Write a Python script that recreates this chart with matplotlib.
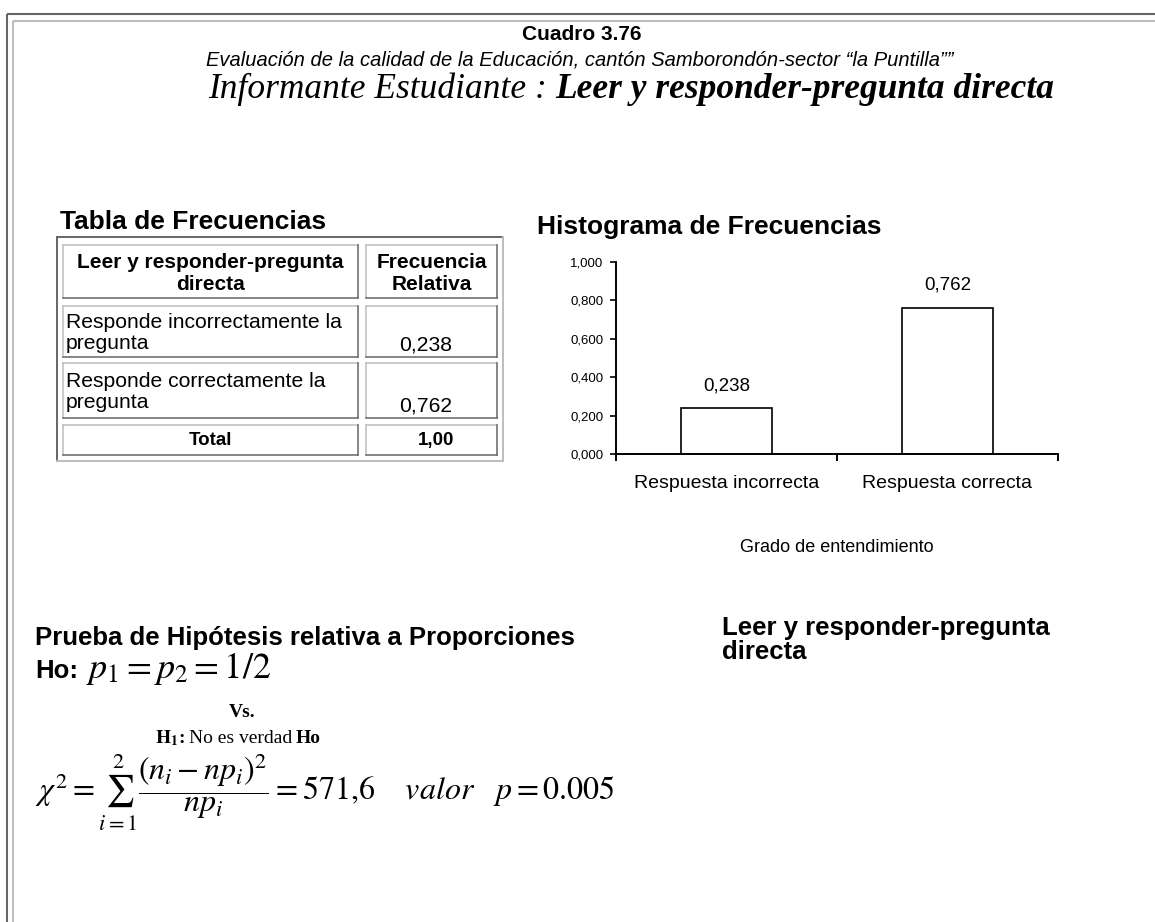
import matplotlib
matplotlib.use('Agg')
import matplotlib.pyplot as plt

plt.rcParams['font.family'] = ['Liberation Sans', 'DejaVu Sans']
plt.rcParams['mathtext.fontset'] = 'stix'

W, H = 1155, 922
DPI = 100

# ---------------- data ----------------
chart_number = "Cuadro 3.76"
subtitle = "Evaluación de la calidad de la Educación, cantón Samborondón-sector “la Puntilla””"
informant = "Informante Estudiante :"
variable = "Leer y responder-pregunta directa"
table_title = "Tabla de Frecuencias"
hist_title = "Histograma de Frecuencias"
table_header = ["Leer y responder-pregunta\ndirecta", "Frecuencia\nRelativa"]
row_labels = ["Responde incorrectamente la\npregunta", "Responde correctamente la\npregunta"]
categories = ["Respuesta incorrecta", "Respuesta correcta"]
rel_freq = [0.238, 0.762]
total_label = "Total"
total_value = 1.00
y_ticks = [0.0, 0.2, 0.4, 0.6, 0.8, 1.0]
x_label = "Grado de entendimiento"
test_title = "Prueba de Hipótesis relativa a Proporciones"
side_title = "Leer y responder-pregunta\ndirecta"
chi2_value = "571{,}6"
p_value = "0.005"


def fmt(v, d=3):
    return f"{v:.{d}f}".replace('.', ',')


fig = plt.figure(figsize=(W / DPI, H / DPI), dpi=DPI)
bg = fig.add_axes([0, 0, 1, 1])
bg.set_xlim(0, W)
bg.set_ylim(H, 0)
bg.axis('off')
r = fig.canvas.get_renderer()
inv = bg.transData.inverted()


def text_width(t):
    bb = t.get_window_extent(renderer=r)
    return inv.transform((bb.x1, 0))[0] - inv.transform((bb.x0, 0))[0]


def inline(pieces, x, y, ha='left'):
    """pieces: list of (string, kwargs, gap_after). Lay out horizontally."""
    objs, widths = [], []
    for s, kw, gap in pieces:
        t = bg.text(0, y, s, ha='left', va='baseline', **kw)
        objs.append((t, gap))
        widths.append(text_width(t))
    total = sum(widths) + sum(g for _, g in objs[:-1])
    cx = x - total / 2 if ha == 'center' else x
    for (t, gap), w in zip(objs, widths):
        t.set_x(cx)
        cx += w + gap


DARK = '#666666'
LIGHT = '#bdbdbd'

# page frame
bg.plot([7, 7], [14, H], color=DARK, lw=1.5, solid_capstyle='butt')
bg.plot([7, W], [14, 14], color=DARK, lw=1.5, solid_capstyle='butt')
bg.plot([12.5, 12.5], [21.5, H], color=LIGHT, lw=1.5, solid_capstyle='butt')
bg.plot([12.5, W], [21.5, 21.5], color=LIGHT, lw=1.5, solid_capstyle='butt')

# titles
bg.text(582, 35, chart_number, ha='center', va='center', fontsize=15, fontweight='bold')
bg.text(580, 60, subtitle, ha='center', va='center', fontsize=14.5, style='italic')
serif_it = dict(fontsize=25.5, family='Liberation Serif', style='italic')
inline([(informant, serif_it, 9),
        (variable, dict(serif_it, fontweight='bold'), 0)], 208, 98)

# ---------------- table ----------------
bg.text(60, 222, table_title, ha='left', va='center', fontsize=19, fontweight='bold')


def frame(x0, y0, x1, y1, tl, br, lw=1.1):
    bg.plot([x0, x1], [y0, y0], color=tl, lw=lw, solid_capstyle='projecting')
    bg.plot([x0, x0], [y0, y1], color=tl, lw=lw, solid_capstyle='projecting')
    bg.plot([x0, x1], [y1, y1], color=br, lw=lw, solid_capstyle='projecting')
    bg.plot([x1, x1], [y0, y1], color=br, lw=lw, solid_capstyle='projecting')


frame(57, 237, 503, 461, DARK, LIGHT, lw=1.4)
col_x = [(63, 358), (366, 497)]
row_y = [(245, 298), (306, 357), (363, 418), (425, 455)]
for (y0, y1) in row_y:
    for (x0, x1) in col_x:
        frame(x0, y0, x1, y1, LIGHT, DARK)

# header
for (x0, x1), txt in zip(col_x, table_header):
    bg.text((x0 + x1) / 2, 273.5, txt, ha='center', va='center', fontsize=15,
            fontweight='bold', multialignment='center', linespacing=1.15)
# body rows
for i, (lab, val) in enumerate(zip(row_labels, rel_freq)):
    y0, y1 = row_y[i + 1]
    bg.text(66, (y0 + y1) / 2 + 1.5, lab, ha='left', va='center', fontsize=15.2,
            linespacing=1.13)
    bg.text(426, y1 - 12, fmt(val), ha='center', va='center', fontsize=15.2)
# total
y0, y1 = row_y[3]
bg.text(sum(col_x[0]) / 2, (y0 + y1) / 2, total_label, ha='center', va='center',
        fontsize=13.5, fontweight='bold')
bg.text(sum(col_x[1]) / 2 + 5, (y0 + y1) / 2, fmt(total_value, 2), ha='center',
        va='center', fontsize=13.5, fontweight='bold')

# ---------------- histogram ----------------
bg.text(537, 227, hist_title, ha='left', va='center', fontsize=19, fontweight='bold')

ax_l, ax_r, ax_t, ax_b = 616, 1058, 262, 454
ax = fig.add_axes([ax_l / W, 1 - ax_b / H, (ax_r - ax_l) / W, (ax_b - ax_t) / H])
ax.patch.set_alpha(0)
xpos = list(range(len(categories)))
bars = ax.bar(xpos, rel_freq, width=0.41, color='white', edgecolor='black', linewidth=1.2)
for x, v in zip(xpos, rel_freq):
    ax.annotate(fmt(v), (x, v), xytext=(0, 16), textcoords='offset points',
                ha='center', va='center', fontsize=13.5)
ax.set_xlim(-0.5, len(categories) - 0.5)
ax.set_ylim(0, 1.0)
ax.set_yticks(y_ticks)
ax.set_yticklabels([fmt(v) for v in y_ticks], fontsize=9.5)
ax.set_xticks(xpos)
ax.set_xticklabels(categories, fontsize=14)
ax.set_xticks([-0.5 + i for i in range(len(categories) + 1)], minor=True)
ax.tick_params(axis='x', which='major', length=0, pad=15)
ax.tick_params(axis='x', which='minor', length=5, width=1.4, direction='out')
ax.tick_params(axis='y', length=4, width=1.2, direction='out', pad=5)
for s in ['top', 'right']:
    ax.spines[s].set_visible(False)
for s in ['left', 'bottom']:
    ax.spines[s].set_linewidth(1.4)
ax.set_xlabel(x_label, fontsize=13, labelpad=34)

# ---------------- hypothesis test ----------------
bg.text(35, 638, test_title, ha='left', va='center', fontsize=18.5, fontweight='bold')
bg.text(722, 640, side_title, ha='left', va='center', fontsize=18.5, fontweight='bold',
        linespacing=0.95)
bg.text(35, 671, "Ho:", ha='left', va='center', fontsize=18.5, fontweight='bold')
bg.text(86, 668, r'$p_1 = p_2 = 1/2$', ha='left', va='center', fontsize=26)
bg.text(242, 712, "Vs.", ha='center', va='center', fontsize=14,
        family='Liberation Serif', fontweight='bold')
serif = dict(fontsize=14, family='Liberation Serif')
inline([(r'$\mathbf{H}_{\mathbf{1}}$', serif, 0),
        (':', dict(serif, fontweight='bold'), 4),
        ('No es verdad', serif, 4),
        ('Ho', dict(serif, fontweight='bold'), 0)], 238, 743, ha='center')
bg.text(35, 792,
        r'$\chi^2 = \sum_{i=1}^{2}\dfrac{(n_i - np_i)^2}{np_i} = ' + chi2_value +
        r'\quad\ valor\quad p = ' + p_value + r'$',
        ha='left', va='center', fontsize=23)

fig.savefig('out.png', dpi=DPI)
